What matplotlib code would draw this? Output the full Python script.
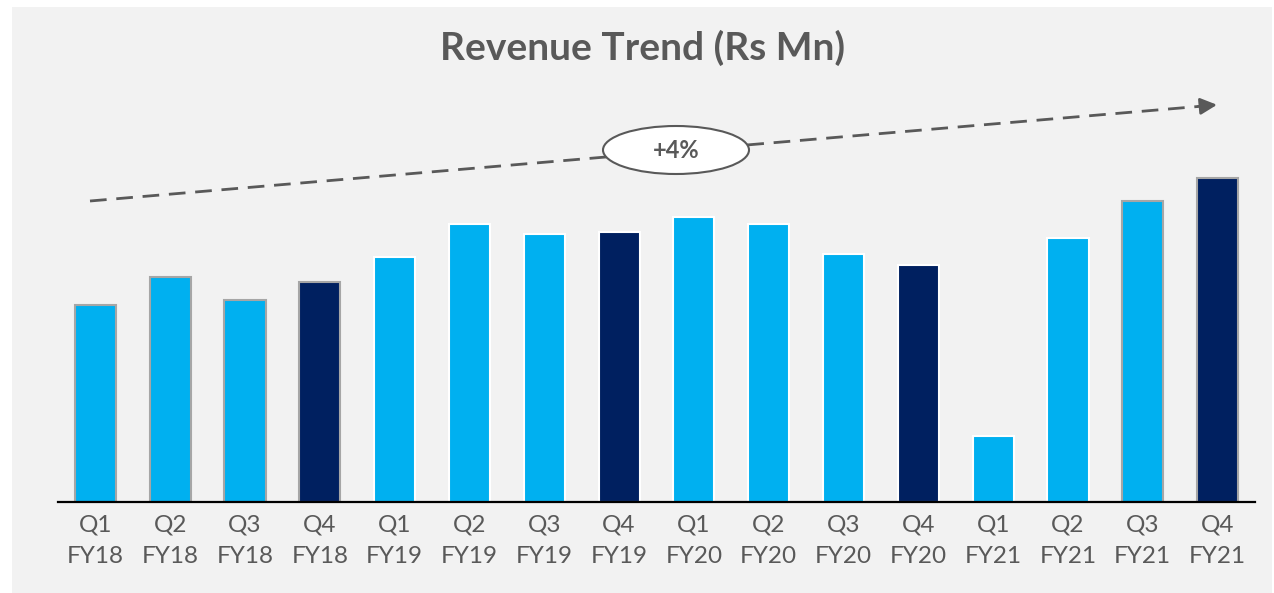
import matplotlib
matplotlib.use("Agg")
import matplotlib.pyplot as plt
from matplotlib.patches import Rectangle, Ellipse

# quarters and revenue (relative)
quarters = ["Q1\nFY18", "Q2\nFY18", "Q3\nFY18", "Q4\nFY18",
            "Q1\nFY19", "Q2\nFY19", "Q3\nFY19", "Q4\nFY19",
            "Q1\nFY20", "Q2\nFY20", "Q3\nFY20", "Q4\nFY20",
            "Q1\nFY21", "Q2\nFY21", "Q3\nFY21", "Q4\nFY21"]
revenue = [197, 225, 202, 220, 245, 278, 268, 270,
           285, 278, 248, 237, 66, 264, 301, 324]
growth_label = "+4%"

light = "#00b0f0"
dark = "#002060"
text_col = "#595959"

W, H = 1274, 593
fig = plt.figure(figsize=(W / 100, H / 100), dpi=100, facecolor="white")

# gray panel behind everything
fig.patches.append(Rectangle((12 / W, 0), (1272 - 12) / W, (H - 7) / H,
                             transform=fig.transFigure, facecolor="#f2f2f2",
                             edgecolor="none", zorder=-5))

ax = fig.add_axes([58 / W, (H - 502) / H, (1255 - 58) / W, (502 - 7) / H])
ax.set_facecolor("none")
ax.set_zorder(1)

colors = [dark if q.startswith("Q4") else light for q in quarters]
edges = []
for q in quarters:
    if "FY18" in q or q in ("Q3\nFY21", "Q4\nFY21"):
        edges.append("#a6a6a6")
    else:
        edges.append("white")

ax.bar(range(len(revenue)), revenue, width=0.55, color=colors,
       edgecolor=edges, linewidth=1.5, zorder=2)

ax.set_xlim(-0.5, len(revenue) - 0.5)
ax.set_ylim(0, 495)
ax.set_xticks(range(len(quarters)))
ax.set_xticklabels(quarters, fontsize=17.5, color=text_col, family="Lato",
                   linespacing=1.6)
ax.tick_params(axis="x", length=0, pad=9)
ax.set_yticks([])
for s in ["top", "left", "right"]:
    ax.spines[s].set_visible(False)
ax.spines["bottom"].set_linewidth(1.6)
ax.spines["bottom"].set_color("black")

# title
fig.text(643 / W, 1 - 48 / H, "Revenue Trend (Rs Mn)", ha="center",
         va="center", fontsize=28, fontweight="bold", color=text_col,
         family="Lato")

# dashed trend arrow
x0, y0 = 90 / W, 1 - 201 / H
x1, y1 = 1198 / W, 1 - 106.5 / H
fig.add_artist(plt.Line2D([x0, x1], [y0, y1], transform=fig.transFigure,
                          color=text_col, lw=2, linestyle=(0, (6, 3.5)),
                          zorder=3))
ax.annotate("", xy=(1217 / W, 1 - 104.8 / H), xytext=(x1, y1),
            xycoords="figure fraction", textcoords="figure fraction",
            arrowprops=dict(arrowstyle="-|>,head_length=1.0,head_width=0.5",
                            color=text_col, lw=2, shrinkA=0, shrinkB=0),
            annotation_clip=False)

# growth bubble
fig.patches.append(Ellipse((676 / W, 1 - 150 / H), 146 / W, 48 / H,
                           transform=fig.transFigure, facecolor="white",
                           edgecolor=text_col, linewidth=1.5, zorder=4))
fig.text(676 / W, 1 - 150 / H, growth_label, ha="center", va="center",
         fontsize=17, fontweight="bold", color=text_col, family="Lato",
         zorder=5)

fig.savefig("out.png", dpi=100, facecolor=fig.get_facecolor())
